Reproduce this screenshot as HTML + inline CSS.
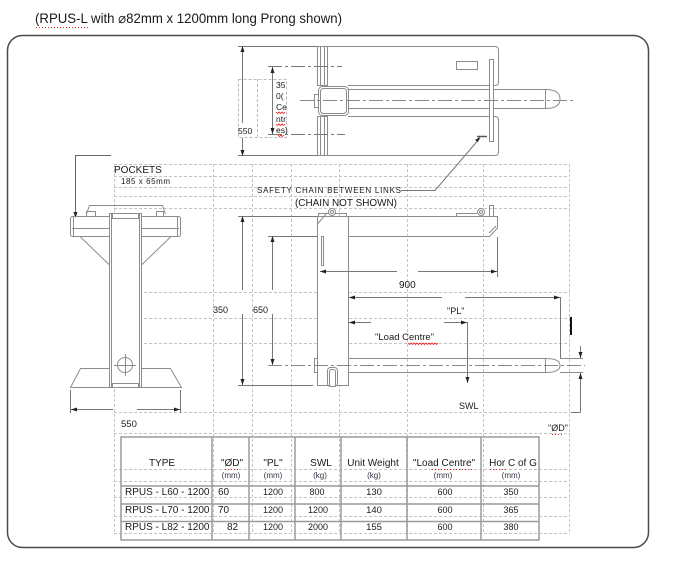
<!DOCTYPE html>
<html><head><meta charset="utf-8"><style>
html,body{margin:0;padding:0;background:#fff;}
svg{display:block;}
text{font-family:"Liberation Sans",Arial,sans-serif;fill:#1a1a1a;}
</style></head><body>
<svg width="673" height="565" viewBox="0 0 673 565" xmlns="http://www.w3.org/2000/svg">
<rect x="0" y="0" width="673" height="565" fill="#fff"/>

<!-- Title -->
<text x="35" y="23" font-size="14" textLength="307" lengthAdjust="spacingAndGlyphs">(RPUS-L with ⌀82mm x 1200mm long Prong shown)</text>
<line x1="36" y1="27.5" x2="89" y2="27.5" stroke="#d22" stroke-dasharray="1 2"/>

<!-- Border -->
<rect x="7.5" y="35.5" width="641" height="512" rx="15" ry="15" fill="none" stroke="#4a4a4a" stroke-width="1.5"/>

<!-- Grid dashed -->
<g stroke="#c4c4c4" stroke-width="1" stroke-dasharray="3 2" fill="none">
<line x1="114.5" y1="164" x2="114.5" y2="534"/>
<line x1="213.5" y1="164" x2="213.5" y2="534"/>
<line x1="252.5" y1="164" x2="252.5" y2="534"/>
<line x1="291.5" y1="164" x2="291.5" y2="534"/>
<line x1="339.5" y1="164" x2="339.5" y2="534"/>
<line x1="407.5" y1="164" x2="407.5" y2="534"/>
<line x1="483.5" y1="164" x2="483.5" y2="534"/>
<line x1="569.5" y1="164" x2="569.5" y2="534"/>
<line x1="114" y1="164.5" x2="570" y2="164.5"/>
<line x1="114" y1="176.5" x2="570" y2="176.5"/>
<line x1="114" y1="187.5" x2="570" y2="187.5"/>
<line x1="114" y1="196.5" x2="570" y2="196.5"/>
<line x1="114" y1="208.5" x2="570" y2="208.5"/>
<line x1="114" y1="292.5" x2="570" y2="292.5"/>
<line x1="114" y1="318.5" x2="570" y2="318.5"/>
<line x1="114" y1="343.5" x2="570" y2="343.5"/>
<line x1="114" y1="412.5" x2="570" y2="412.5"/>
<line x1="114" y1="433.5" x2="570" y2="433.5"/>
<line x1="114" y1="469.5" x2="570" y2="469.5"/>
<line x1="114" y1="481.5" x2="570" y2="481.5"/>
<line x1="114" y1="497.5" x2="570" y2="497.5"/>
<line x1="114" y1="516.5" x2="570" y2="516.5"/>
<line x1="114" y1="533.5" x2="570" y2="533.5"/>
</g>

<!-- ========== TOP VIEW ========== -->
<g stroke="#8c8c8c" fill="none" stroke-width="1">
 <rect x="317.5" y="46.5" width="10" height="39"/>
 <line x1="320.5" y1="47" x2="320.5" y2="85"/>
 <line x1="324.5" y1="47" x2="324.5" y2="85"/>
 <rect x="317.5" y="116.5" width="10" height="39"/>
 <line x1="320.5" y1="117" x2="320.5" y2="155"/>
 <line x1="324.5" y1="117" x2="324.5" y2="155"/>
 <path d="M327.5 46.5 H495 Q498.5 46.5 498.5 50 V82 Q498.5 85.5 495 85.5 H348"/>
 <path d="M348 116.5 H495 Q498.5 116.5 498.5 120 V152 Q498.5 155.5 495 155.5 H327.5"/>
 <path d="M348 89.5 H545.5 Q560 89.5 560 99 Q560 108.5 545.5 108.5 H348"/>
 <line x1="545.5" y1="89.5" x2="545.5" y2="108.5"/>
 <rect x="318.5" y="86.5" width="30" height="29" rx="4" fill="#fff"/>
 <rect x="320.5" y="88.5" width="26" height="25" rx="3"/>
 <rect x="314.5" y="94.5" width="4" height="13" fill="#fff"/>
 <rect x="456.5" y="61.5" width="21" height="8"/>
 <rect x="489.5" y="59.5" width="4" height="82" fill="#fff"/>
</g>
<line x1="300" y1="100.5" x2="576" y2="100.5" stroke="#888" stroke-dasharray="14 3 3 3"/>
<line x1="477" y1="136.5" x2="487" y2="136.5" stroke="#555" stroke-width="1.5"/>

<!-- top view dims -->
<g stroke="#777" fill="none">
 <line x1="238" y1="46.5" x2="317" y2="46.5"/>
 <line x1="238" y1="155.5" x2="317" y2="155.5"/>
 <line x1="242.5" y1="47" x2="242.5" y2="123"/>
 <line x1="242.5" y1="138" x2="242.5" y2="155"/>
 <line x1="272.5" y1="67" x2="272.5" y2="134"/>
 <line x1="268" y1="66.5" x2="342" y2="66.5" stroke-dasharray="14 3 3 3"/>
 <line x1="268" y1="134.5" x2="345" y2="134.5" stroke-dasharray="14 3 3 3"/>
</g>
<g stroke="#bbb" fill="none" stroke-dasharray="3 2">
 <rect x="238.5" y="79.5" width="48" height="58"/>
 <line x1="257.5" y1="79" x2="257.5" y2="137"/>
</g>
<g fill="#222">
 <polygon points="242.5,46 240.5,52 244.5,52"/>
 <polygon points="242.5,156 240.5,150 244.5,150"/>
 <polygon points="272.5,67 270.5,73 274.5,73"/>
 <polygon points="272.5,134 270.5,128 274.5,128"/>
</g>
<text x="238" y="134" font-size="8.5">550</text>
<text x="276" y="88" font-size="8.5">35</text>
<text x="276" y="99" font-size="8.5">0(</text>
<text x="276" y="110" font-size="8.5">Ce</text>
<text x="276" y="122" font-size="8.5">ntr</text>
<text x="276" y="133" font-size="8.5">es)</text>
<g stroke="#e22" fill="none" stroke-width="0.8">
 <path d="M276 112 l1.5 1.5 l1.5 -1.5 l1.5 1.5 l1.5 -1.5 l1.5 1.5 l1.5 -1.5"/>
 <path d="M276 124 l1.5 1.5 l1.5 -1.5 l1.5 1.5 l1.5 -1.5 l1.5 1.5 l1.5 -1.5"/>
 <path d="M278 135 l1.5 1.5 l1.5 -1.5 l1.5 1.5 l1.5 -1.5"/>
</g>

<!-- leader safety chain -->
<polyline points="401,190.5 435,190.5 480,138" fill="none" stroke="#777"/>
<polygon points="480,137 475,140 478,142" fill="#222"/>
<text x="257" y="193" font-size="8" textLength="144" lengthAdjust="spacing">SAFETY CHAIN BETWEEN LINKS</text>
<text x="295" y="206" font-size="10" textLength="102" lengthAdjust="spacingAndGlyphs">(CHAIN NOT SHOWN)</text>

<!-- ========== LEFT SIDE VIEW ========== -->
<polyline points="111,155.5 75.5,155.5 75.5,212" fill="none" stroke="#666"/>
<polygon points="75.5,218 73.5,212 77.5,212" fill="#222"/>
<g stroke="#8c8c8c" fill="none">
 <polyline points="86.5,214 89.5,205.5 162.5,205.5 165.5,214"/>
 <rect x="86.5" y="211.5" width="9" height="5"/>
 <rect x="156.5" y="211.5" width="7" height="5"/>
 <rect x="70.5" y="216.5" width="110" height="20" rx="2"/>
 <line x1="72" y1="228.5" x2="179" y2="228.5"/>
 <line x1="73.5" y1="217" x2="73.5" y2="236"/>
 <line x1="177.5" y1="217" x2="177.5" y2="236"/>
 <line x1="80.5" y1="237" x2="109.5" y2="265"/>
 <line x1="170.5" y1="237" x2="141.5" y2="265"/>
 <rect x="109.5" y="213.5" width="32" height="174" fill="#fff"/>
 <line x1="111.5" y1="214" x2="111.5" y2="387"/>
 <line x1="139.5" y1="214" x2="139.5" y2="387"/>
 <rect x="112.5" y="213.5" width="26" height="5"/>
 <rect x="112.5" y="383.5" width="26" height="4"/>
 <polyline points="109,368.5 80.5,368.5 70.5,387.5 109,387.5"/>
 <polyline points="141,368.5 170.5,368.5 181.5,387.5 141,387.5"/>
 <circle cx="125" cy="365" r="7.5"/>
 <line x1="114" y1="365.5" x2="136" y2="365.5"/>
 <line x1="125.5" y1="354" x2="125.5" y2="376"/>
</g>
<g stroke="#777">
 <line x1="70.5" y1="390" x2="70.5" y2="413"/>
 <line x1="180.5" y1="390" x2="180.5" y2="413"/>
 <line x1="71" y1="409.5" x2="113" y2="409.5"/>
 <line x1="137" y1="409.5" x2="180" y2="409.5"/>
</g>
<g fill="#222">
 <polygon points="71,409.5 77,407.5 77,411.5"/>
 <polygon points="180,409.5 174,407.5 174,411.5"/>
</g>
<text x="114" y="173" font-size="10">POCKETS</text>
<text x="121" y="184" font-size="8" textLength="49" lengthAdjust="spacing">185 x 65mm</text>
<text x="121" y="427" font-size="9.5">550</text>

<!-- ========== MIDDLE SIDE VIEW ========== -->
<g stroke="#8c8c8c" fill="none">
 <rect x="317.5" y="216.5" width="31" height="169" fill="#fff"/>
 <path d="M348.5 216.5 H497.5 V228 L489.5 236.5 H348.5"/>
 <line x1="489" y1="233" x2="496" y2="226"/>
 <line x1="317.5" y1="224" x2="327" y2="213"/>
 <path d="M318.5 216 V213.5 H346.5 V216"/>
 <circle cx="332" cy="212" r="3.5" fill="#fff"/>
 <circle cx="332" cy="212" r="1.5"/>
 <path d="M456.5 216 V213.5 H477"/>
 <circle cx="481" cy="212" r="3.5" fill="#fff"/>
 <circle cx="481" cy="212" r="1.5"/>
 <rect x="489.5" y="205.5" width="4" height="11"/>
 <rect x="321.5" y="236.5" width="2" height="29"/>
 <path d="M348.5 358.5 H545.5 Q560 358.5 560 365.5 Q560 372.5 545.5 372.5 H348.5"/>
 <line x1="545.5" y1="358.5" x2="545.5" y2="372.5"/>
 <line x1="560" y1="358.5" x2="583" y2="358.5"/>
 <line x1="560" y1="372.5" x2="583" y2="372.5"/>
 <rect x="327.5" y="367.5" width="10" height="19" rx="3" fill="#fff"/>
 <rect x="329.5" y="369.5" width="6" height="17" rx="2"/>
 <rect x="314.5" y="358.5" width="3" height="14" fill="#fff"/>
</g>
<line x1="268" y1="365.5" x2="585" y2="365.5" stroke="#888" stroke-dasharray="14 3 3 3"/>
<g stroke="#777" fill="none">
 <line x1="238" y1="216.5" x2="317" y2="216.5"/>
 <line x1="268" y1="236.5" x2="317" y2="236.5"/>
 <line x1="238" y1="385.5" x2="313" y2="385.5"/>
 <line x1="242.5" y1="217" x2="242.5" y2="290"/>
 <line x1="242.5" y1="314" x2="242.5" y2="385"/>
 <line x1="272.5" y1="237" x2="272.5" y2="290"/>
 <line x1="272.5" y1="314" x2="272.5" y2="365"/>
 <line x1="320" y1="271.5" x2="397" y2="271.5"/>
 <line x1="418" y1="271.5" x2="497" y2="271.5"/>
 <line x1="497.5" y1="237" x2="497.5" y2="277"/>
 <line x1="349" y1="297.5" x2="442" y2="297.5"/>
 <line x1="465" y1="297.5" x2="560" y2="297.5"/>
 <line x1="560.5" y1="297" x2="560.5" y2="358"/>
 <line x1="349" y1="322.5" x2="371" y2="322.5"/>
 <line x1="444" y1="322.5" x2="467" y2="322.5"/>
 <line x1="467.5" y1="322" x2="467.5" y2="383"/>
 <line x1="580.5" y1="346" x2="580.5" y2="358"/>
 <line x1="580.5" y1="373" x2="580.5" y2="412.5"/>
 <line x1="571" y1="412.5" x2="580.5" y2="412.5"/>
</g>
<g fill="#222">
 <polygon points="242.5,216 240.5,222 244.5,222"/>
 <polygon points="242.5,385 240.5,379 244.5,379"/>
 <polygon points="272.5,236 270.5,242 274.5,242"/>
 <polygon points="272.5,365 270.5,359 274.5,359"/>
 <polygon points="320,271.5 326,269.5 326,273.5"/>
 <polygon points="497,271.5 491,269.5 491,273.5"/>
 <polygon points="349,297.5 355,295.5 355,299.5"/>
 <polygon points="560,297.5 554,295.5 554,299.5"/>
 <polygon points="349,322.5 355,320.5 355,324.5"/>
 <polygon points="467,322.5 461,320.5 461,324.5"/>
 <polygon points="467.5,383 465.5,377 469.5,377"/>
 <polygon points="580.5,358 578.5,352 582.5,352"/>
 <polygon points="580.5,373 578.5,379 582.5,379"/>
</g>
<rect x="570" y="317" width="2" height="18" fill="#111"/>
<text x="213" y="313" font-size="9">350</text>
<text x="253" y="313" font-size="9">650</text>
<text x="399" y="288" font-size="10">900</text>
<text x="447" y="314" font-size="9">"PL"</text>
<text x="375" y="340" font-size="9.5">"Load Centre"</text>
<path d="M408 343 l1.5 1.5 l1.5 -1.5 l1.5 1.5 l1.5 -1.5 l1.5 1.5 l1.5 -1.5 l1.5 1.5 l1.5 -1.5 l1.5 1.5 l1.5 -1.5 l1.5 1.5 l1.5 -1.5 l1.5 1.5 l1.5 -1.5 l1.5 1.5 l1.5 -1.5 l1.5 1.5 l1.5 -1.5 l1.5 1.5 l1.5 -1.5" stroke="#e22" fill="none" stroke-width="0.8"/>
<text x="459" y="409" font-size="9">SWL</text>
<text x="548" y="431" font-size="9">"ØD"</text>
<line x1="552" y1="434.5" x2="564" y2="434.5" stroke="#d22" stroke-dasharray="1 2"/>

<!-- ========== TABLE ========== -->
<g stroke="#9a9a9a" stroke-width="1.5" fill="none">
 <rect x="121" y="437" width="418" height="103"/>
 <line x1="212" y1="437" x2="212" y2="540"/>
 <line x1="249" y1="437" x2="249" y2="540"/>
 <line x1="295" y1="437" x2="295" y2="540"/>
 <line x1="341" y1="437" x2="341" y2="540"/>
 <line x1="407" y1="437" x2="407" y2="540"/>
 <line x1="481" y1="437" x2="481" y2="540"/>
 <line x1="121" y1="486" x2="539" y2="486"/>
 <line x1="121" y1="504" x2="539" y2="504"/>
 <line x1="121" y1="521.5" x2="539" y2="521.5"/>
</g>
<g font-size="10" text-anchor="middle">
 <text x="162" y="466">TYPE</text>
 <text x="232" y="466">"ØD"</text>
 <text x="273" y="466">"PL"</text>
 <text x="321" y="466">SWL</text>
 <text x="373" y="466">Unit Weight</text>
 <text x="444" y="466">"Load Centre"</text>
 <text x="513" y="466">Hor C of G</text>
</g>
<g stroke="#d22" stroke-dasharray="1 2">
 <line x1="225" y1="469.5" x2="240" y2="469.5"/>
 <line x1="432" y1="469.5" x2="474" y2="469.5"/>
 <line x1="490" y1="469.5" x2="506" y2="469.5"/>
</g>
<g font-size="8" text-anchor="middle" style="fill:#334">
 <text x="231" y="478" style="fill:#334">(mm)</text>
 <text x="273" y="478" style="fill:#334">(mm)</text>
 <text x="320" y="478" style="fill:#334">(kg)</text>
 <text x="374" y="478" style="fill:#334">(kg)</text>
 <text x="443" y="478" style="fill:#334">(mm)</text>
 <text x="511" y="478" style="fill:#334">(mm)</text>
</g>
<g font-size="10">
 <text x="125" y="495">RPUS - L60 - 1200</text>
 <text x="125" y="513">RPUS - L70 - 1200</text>
 <text x="125" y="530">RPUS - L82 - 1200</text>
 <text x="218" y="495">60</text>
 <text x="218" y="513">70</text>
 <text x="227" y="530">82</text>
</g>
<g font-size="9" text-anchor="middle">
 <text x="273" y="495">1200</text>
 <text x="273" y="513">1200</text>
 <text x="273" y="530">1200</text>
 <text x="317" y="495">800</text>
 <text x="318" y="513">1200</text>
 <text x="318" y="530">2000</text>
 <text x="374" y="495" font-size="9.5">130</text>
 <text x="374" y="513" font-size="9.5">140</text>
 <text x="374" y="530" font-size="9.5">155</text>
 <text x="445" y="495">600</text>
 <text x="445" y="513">600</text>
 <text x="445" y="530">600</text>
 <text x="511" y="495">350</text>
 <text x="511" y="513">365</text>
 <text x="511" y="530">380</text>
</g>
</svg>
</body></html>
